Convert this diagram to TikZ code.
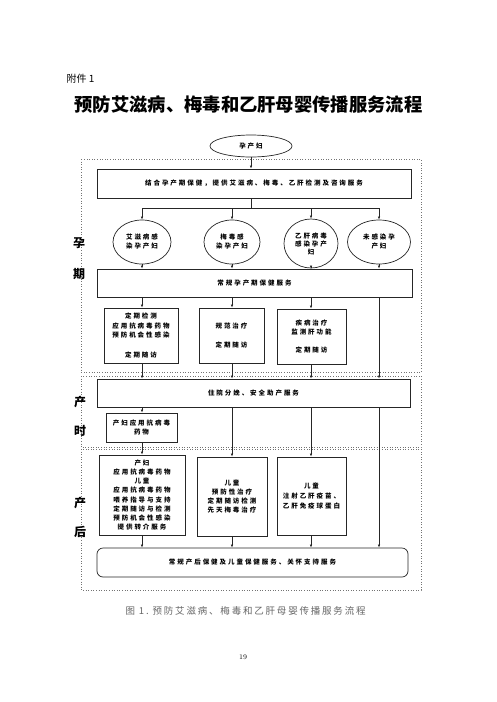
\documentclass[tikz,border=0pt]{standalone}
\usepackage{fontspec}
\newfontfamily\cjk{Noto Sans CJK SC}
\newfontfamily\cjkwide{Noto Sans CJK SC}[LetterSpace=30]
\newfontfamily\cjkcap{Noto Sans CJK SC}[LetterSpace=19]
\usetikzlibrary{shapes.geometric,arrows.meta}

\begin{document}
\begin{tikzpicture}[x=1pt, y=-1pt, line join=miter,
	box/.style={draw=black!85, line width=0.7pt, rectangle, inner sep=1pt, align=center, font=\cjkwide\bfseries\fontsize{6.5}{9.3}\selectfont},
	oval/.style={draw=black!85, line width=0.7pt, ellipse, inner sep=0pt, align=center, font=\cjkwide\bfseries\fontsize{6.5}{9}\selectfont},
	phase/.style={draw=black!55, dotted, line width=0.6pt},
	side/.style={font=\cjk\bfseries\fontsize{12}{12}\selectfont},
	link/.style={draw=black!85, line width=0.6pt, -{Latex[length=3pt, width=2.4pt]}}]
	\path[fill=white] (0,0) rectangle (496,702);
	\useasboundingbox (0,0) rectangle (496,702);
	
	% 标题
	\node[font=\cjk\fontsize{10}{10}\selectfont, anchor=west] (annex) at (63,79) {附件 1};
	\node[font=\cjk\bfseries\fontsize{18.3}{20}\selectfont] (title) at (248.5,105) {预防艾滋病、梅毒和乙肝母婴传播服务流程};
	
	% 分期虚线框
	\draw[phase] (81,159) rectangle (421,372);
	\draw[phase] (81,376) rectangle (421,447);
	\draw[phase] (81,449) rectangle (421,590);
	\node[side] (preg1) at (79,243) {孕};
	\node[side] (preg2) at (79,274) {期};
	\node[side] (lab1) at (80,402) {产};
	\node[side] (lab2) at (80,431) {时};
	\node[side] (post1) at (80,503) {产};
	\node[side] (post2) at (80,532) {后};
	
	% 孕期
	\node[oval, minimum width=82pt, minimum height=22pt] (mother) at (251,146) {孕产妇};
	\node[box, minimum width=314pt, minimum height=29pt] (screen) at (254,183.5) {结合孕产期保健，提供艾滋病、梅毒、乙肝检测及咨询服务};
	\coordinate (busL) at (142,208);
	\coordinate (busR) at (379,208);
	\node[oval, minimum width=58pt, minimum height=44pt] (hiv) at (142,242) {艾滋病感\\染孕产妇};
	\node[oval, minimum width=56pt, minimum height=44pt] (syph) at (232,242) {梅毒感\\染孕产妇};
	\node[oval, minimum width=54pt, minimum height=49pt, font=\cjkwide\bfseries\fontsize{6.5}{8}\selectfont] (hbv) at (311,243.5) {乙肝病毒\\感染孕产\\妇};
	\node[oval, minimum width=63pt, minimum height=44pt] (neg) at (379,242) {未感染孕\\产妇};
	\node[box, minimum width=315pt, minimum height=28pt] (routine) at (254.5,283) {常规孕产期保健服务};
	\node[box, minimum width=74pt, minimum height=55pt, font=\cjkwide\bfseries\fontsize{6.5}{9.5}\selectfont] (hivcare) at (141,335.5) {定期检测\\应用抗病毒药物\\预防机会性感染\\[10pt]定期随访};
	\node[box, minimum width=65pt, minimum height=55pt] (syphcare) at (231.5,335.5) {规范治疗\\[10.5pt]定期随访};
	\node[box, minimum width=69pt, minimum height=55pt] (hbvcare) at (311.5,336.5) {疾病治疗\\监测肝功能\\[8.5pt]定期随访};
	
	\draw[link] (mother.south) -- (mother.south |- screen.north);
	\draw[draw=black!85, line width=0.6pt] (mother.south |- screen.south) -- (mother.south |- busL);
	\draw[draw=black!85, line width=0.6pt] (busL) -- (busR);
	\foreach \n in {hiv,syph,hbv,neg} {
		\draw[link] (\n.north |- busL) -- (\n.north);
		\draw[link] (\n.south) -- (\n.south |- routine.north);
	}
	
	% 产时
	\node[box, minimum width=313pt, minimum height=28pt] (delivery) at (253.5,393) {住院分娩、安全助产服务};
	\node[box, minimum width=71pt, minimum height=29pt] (arv) at (141.5,427.5) {产妇应用抗病毒\\药物};
	
	\foreach \n/\m in {hiv/hivcare, syph/syphcare, hbv/hbvcare} {
		\draw[link] (\n |- routine.south) -- (\n |- \m.north);
		\draw[link] (\n |- \m.south) -- (\n |- delivery.north);
	}
	\draw[link] (neg |- routine.south) -- (neg |- delivery.north);
	
	% 产后
	\node[box, minimum width=86pt, minimum height=80pt, font=\cjkwide\bfseries\fontsize{6.5}{9.1}\selectfont] (hivpost) at (142,495) {产妇\\应用抗病毒药物\\儿童\\应用抗病毒药物\\喂养指导与支持\\定期随访与检测\\预防机会性感染\\提供转介服务};
	\node[box, minimum width=70pt, minimum height=79pt, font=\cjkwide\bfseries\fontsize{6.5}{8.7}\selectfont] (syphpost) at (232,496.5) {儿童\\预防性治疗\\定期随访检测\\先天梅毒治疗};
	\node[box, minimum width=69pt, minimum height=78pt, font=\cjkwide\bfseries\fontsize{6.5}{10}\selectfont] (hbvpost) at (311.5,496) {儿童\\注射乙肝疫苗、\\乙肝免疫球蛋白};
	\node[box, rounded corners=6pt, minimum width=311pt, minimum height=29pt] (postcare) at (252.5,562.5) {常规产后保健及儿童保健服务、关怀支持服务};
	
	\draw[link] (hiv |- delivery.south) -- (hiv |- arv.north);
	\draw[link] (hiv |- arv.south) -- (hiv |- hivpost.north);
	\draw[link] (hiv |- hivpost.south) -- (hiv |- postcare.north);
	\foreach \n/\m in {syph/syphpost, hbv/hbvpost} {
		\draw[link] (\n |- delivery.south) -- (\n |- \m.north);
		\draw[link] (\n |- \m.south) -- (\n |- postcare.north);
	}
	\draw[link] (neg |- delivery.south) -- (neg |- postcare.north);
	
	% 图题
	\node[font=\cjkcap\fontsize{9.5}{10}\selectfont, text=black!60, anchor=west] (caption) at (122,611) {图 1.\ 预防艾滋病、梅毒和乙肝母婴传播服务流程};
	\node[font=\rmfamily\fontsize{7}{7}\selectfont] (page) at (243,657) {19};
\end{tikzpicture}
\end{document}
